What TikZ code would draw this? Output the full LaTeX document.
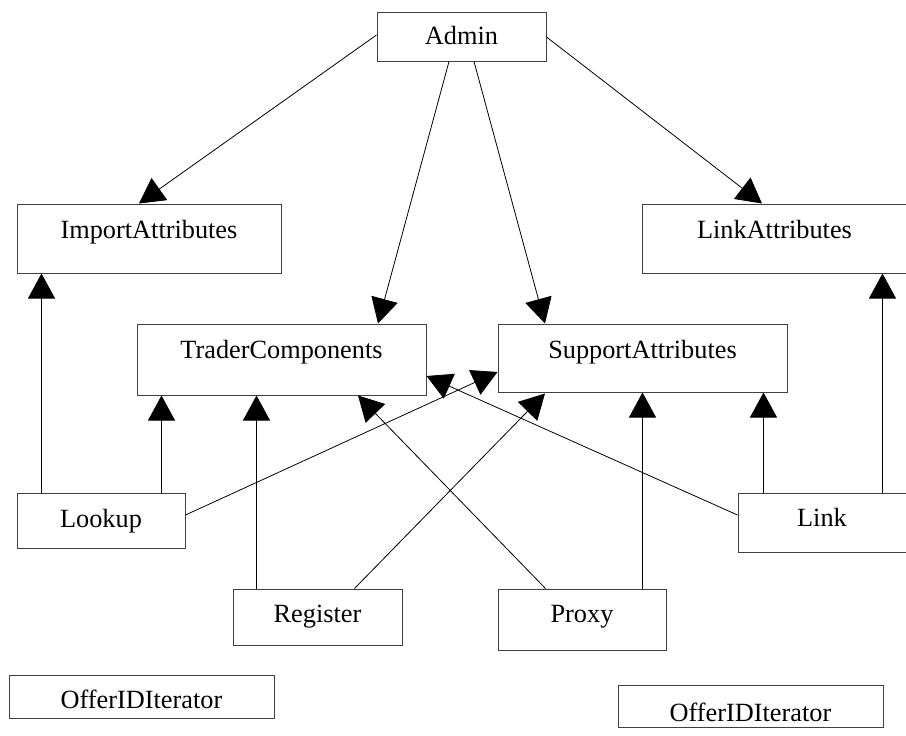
\documentclass[tikz,border=0pt]{standalone}
\usepackage{fontspec}
\setmainfont{Liberation Serif}
\usetikzlibrary{arrows.meta}

\begin{document}
\begin{tikzpicture}[x=1pt,y=-1pt,
  box/.style={draw=black!75,line width=1pt,inner sep=0pt,fill=none},
  lbl/.style={anchor=base,inner sep=0pt,font=\fontsize{26.3}{30}\selectfont},
  arr/.style={draw=black,line width=0.8pt,-{Triangle[length=25pt,width=27pt]}}]
\useasboundingbox (0,0) rectangle (906,736);

% classes
\node[box,minimum width=169pt,minimum height=49pt] (admin)    at (461.5,36.5) {};
\node[box,minimum width=264pt,minimum height=69pt] (imp)      at (149,238.5)  {};
\node[box,minimum width=265pt,minimum height=69pt] (lattr)    at (774.5,238.5) {};
\node[box,minimum width=289pt,minimum height=71pt] (trader)   at (281.5,359.5) {};
\node[box,minimum width=289pt,minimum height=68pt] (support)  at (642.5,358)  {};
\node[box,minimum width=168pt,minimum height=55pt] (lookup)   at (101,520.5)  {};
\node[box,minimum width=169pt,minimum height=59pt] (link)     at (822.5,522.5) {};
\node[box,minimum width=169pt,minimum height=56pt] (register) at (317.5,617)  {};
\node[box,minimum width=168pt,minimum height=61pt] (proxy)    at (582,619.5)  {};
\node[box,minimum width=265pt,minimum height=43pt] (offerA)   at (141.5,696.5) {};
\node[box,minimum width=265pt,minimum height=42pt] (offerB)   at (750.5,706)  {};

% class names
\node[lbl] (admin-t)    at (461.5,45)  {Admin};
\node[lbl] (imp-t)      at (149,238)   {ImportAttributes};
\node[lbl] (lattr-t)    at (774.5,238) {LinkAttributes};
\node[lbl] (trader-t)   at (281.5,358) {TraderComponents};
\node[lbl] (support-t)  at (642.5,358) {SupportAttributes};
\node[lbl] (lookup-t)   at (101,527)   {Lookup};
\node[lbl] (link-t)     at (822,526)   {Link};
\node[lbl] (register-t) at (317.5,622) {Register};
\node[lbl] (proxy-t)    at (582,622)   {Proxy};
\node[lbl] (offerA-t)   at (141.5,708) {OfferIDIterator};
\node[lbl] (offerB-t)   at (750.5,721) {OfferIDIterator};

% Admin dependencies
\draw[arr] ([yshift=1.5pt]admin.west)    -- ([xshift=-10pt]imp.north);
\draw[arr] ([xshift=-12.5pt]admin.south) -- ([xshift=96.5pt]trader.north);
\draw[arr] ([xshift=12.5pt]admin.south)  -- ([xshift=-97.5pt]support.north);
\draw[arr] ([yshift=-0.5pt]admin.east)   -- ([xshift=-12.5pt]lattr.north);

% Lookup
\draw[arr] ([xshift=25pt]lookup.north west) coordinate (l1) -- (l1 |- imp.south);
\draw[arr] ([xshift=145pt]lookup.north west) coordinate (l2) -- (l2 |- trader.south);
\draw[arr] ([yshift=5.5pt]lookup.east) -- ([yshift=-14pt]support.west);

% Register
\draw[arr] ([xshift=24pt]register.north west) coordinate (r1) -- (r1 |- trader.south);
\draw[arr] ([xshift=-48pt]register.north east) -- ([xshift=-97.5pt,yshift=-1pt]support.south);

% Proxy
\draw[arr] ([xshift=48pt]proxy.north west) -- ([xshift=76.5pt]trader.south);
\draw[arr] ([xshift=145pt]proxy.north west) coordinate (p1) -- (p1 |- support.south);

% Link
\draw[arr] ([yshift=7.5pt]link.west) -- ([yshift=-16.5pt]trader.east);
\draw[arr] ([xshift=26pt]link.north west) coordinate (k1) -- (k1 |- support.south);
\draw[arr] ([xshift=145pt]link.north west) coordinate (k2) -- (k2 |- lattr.south);
\end{tikzpicture}
\end{document}
